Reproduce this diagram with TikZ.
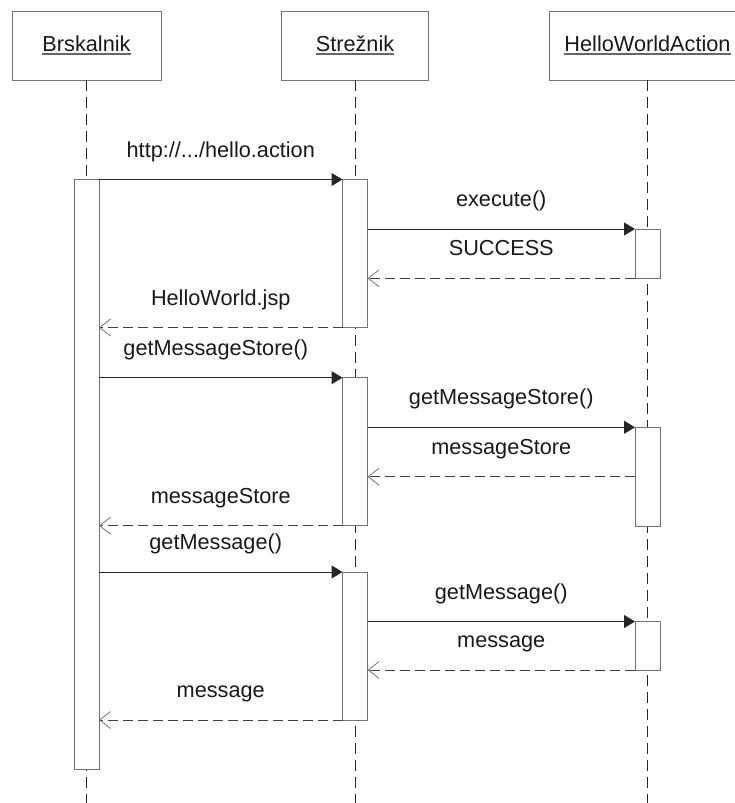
\documentclass[tikz,border=0pt]{standalone}
\usepackage{fontspec}
\setmainfont{Liberation Sans}
\usetikzlibrary{arrows.meta}

\begin{document}
\begin{tikzpicture}[x=1pt,y=-1pt,
  every node/.style={font=\fontsize{21.7pt}{26pt}\selectfont, text=black!90},
  header/.style={draw=black!55, line width=1pt, fill=white, minimum width=#1,
    minimum height=68.5pt, inner sep=0pt, outer sep=0pt},
  act/.style={draw=black!55, line width=1pt, fill=white, minimum width=25pt,
    minimum height=#1, inner sep=0pt, outer sep=0pt},
  lifeline/.style={draw=black!85, line width=1pt, dash pattern=on 11pt off 6pt},
  call/.style={draw=black!85, line width=1pt,
    -{Triangle[length=11pt,width=13pt]}},
  reply/.style={draw=black!75, line width=1pt, dash pattern=on 10pt off 5pt,
    -{Straight Barb[length=11pt,width=17pt,line width=0.8pt,color=black!55]}},
  title/.style={anchor=base, inner sep=0pt},
  lbl/.style={anchor=base, yshift=22.5pt, inner sep=0pt},
  ul/.style={draw=black!60, line width=1.6pt}
]
\clip (0,0) rectangle (735,803);
\useasboundingbox (0,0) rectangle (735,803);

% participants
\node[header=149pt]   (brsk) at (86.5,45.75) {};
\node[header=146.5pt] (srv)  at (355,45.75)  {};
\node[header=196.5pt] (hwa)  at (647.5,45.75) {};
\node[title] (brskT) at (86.5,51.7) {Brskalnik};
\node[title] (srvT)  at (355,51.7)  {Strežnik};
\node[title] (hwaT)  at (647.5,51.7) {HelloWorldAction};
\foreach \t in {brskT,srvT,hwaT}
  \draw[ul] ([yshift=-2.2pt]\t.base west) -- ([yshift=-2.2pt]\t.base east);

% lifelines
\coordinate (bottom) at (0,803);
\draw[lifeline] (brsk.south) -- (brsk.south |- bottom);
\draw[lifeline] (srv.south)  -- (srv.south |- bottom);
\draw[lifeline] (hwa.south)  -- (hwa.south |- bottom);

% activations
\node[act=589.8pt] (bA) at (86.5,474.4) {};
\node[act=148pt] (s1) at (355,253.5) {};
\node[act=148pt] (s2) at (355,451.7) {};
\node[act=148pt] (s3) at (355,646) {};
\node[act=49.3pt] (h1) at (647.5,253.65) {};
\node[act=98.7pt] (h2) at (647.5,476.65) {};
\node[act=48.5pt] (h3) at (647.5,645.75) {};
\coordinate (r2) at (647.5,476.7);

% block 1
\draw[call]  (bA.east |- s1.north) -- node[lbl] {http://.../hello.action} (s1.north west);
\draw[call]  (s1.east |- h1.north) -- node[lbl] {execute()} (h1.north west);
\draw[reply] (h1.south west) -- node[lbl] {SUCCESS} (s1.east |- h1.south);
\draw[reply] (s1.south west) -- node[lbl] {HelloWorld.jsp} (bA.east |- s1.south);

% block 2
\draw[call]  (bA.east |- s2.north) -- node[lbl, xshift=-5pt] {getMessageStore()} (s2.north west);
\draw[call]  (s2.east |- h2.north) -- node[lbl] {getMessageStore()} (h2.north west);
\draw[reply] (h2.west |- r2) -- node[lbl] {messageStore} (s2.east |- r2);
\draw[reply] (s2.south west) -- node[lbl] {messageStore} (bA.east |- s2.south);

% block 3
\draw[call]  (bA.east |- s3.north) -- node[lbl, xshift=-5pt] {getMessage()} (s3.north west);
\draw[call]  (s3.east |- h3.north) -- node[lbl] {getMessage()} (h3.north west);
\draw[reply] (h3.south west) -- node[lbl] {message} (s3.east |- h3.south);
\draw[reply] (s3.south west) -- node[lbl] {message} (bA.east |- s3.south);
\end{tikzpicture}
\end{document}
